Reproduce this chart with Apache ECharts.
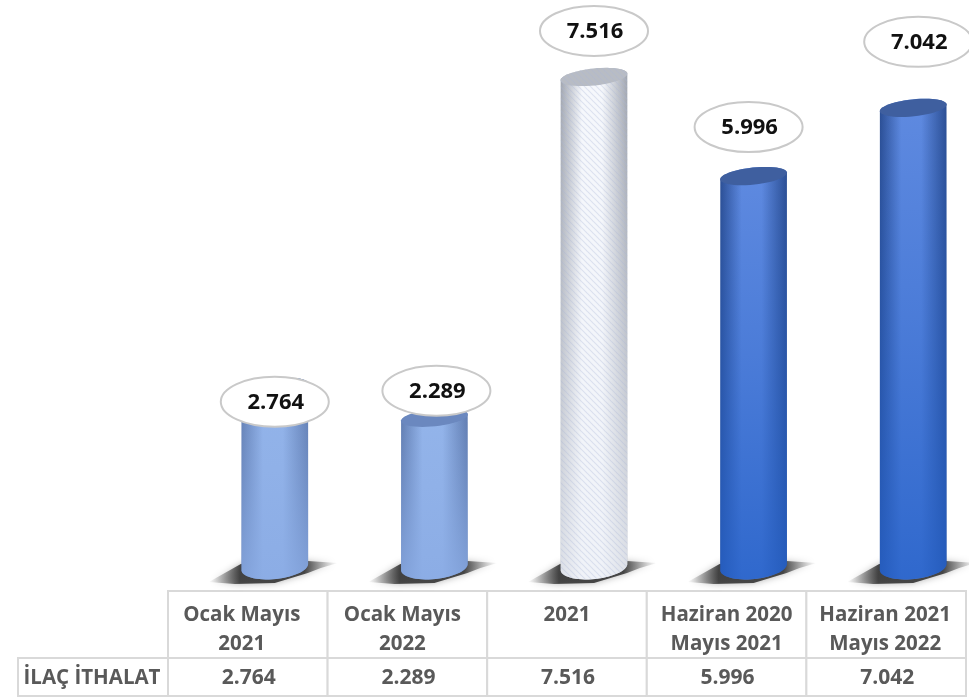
<!DOCTYPE html>
<html><head><meta charset="utf-8">
<style>html,body{margin:0;padding:0;background:#fff}#c{width:969px;height:700px}</style>
<script src="https://cdn.jsdelivr.net/npm/echarts@6/dist/echarts.min.js"></script>
</head><body><div id="c"></div>
<script>
const categories = ['Ocak Mayıs\n2021','Ocak Mayıs\n2022','2021','Haziran 2020\nMayıs 2021','Haziran 2021\nMayıs 2022'];
const values = [2764,2289,7516,5996,7042];
const valueLabels = ['2.764','2.289','7.516','5.996','7.042'];
const rowName = 'İLAÇ İTHALAT';

const palettes = [
 {edge:'#607cb0',mid:'#93b4ea',top:'#6b88bf',over:'#8aabe4'},
 {edge:'#607cb0',mid:'#93b4ea',top:'#6b88bf',over:'#8aabe4'},
 {edge:'#a0a5af',mid:'#f6f8fc',top:'#b8bcc4',over:'#eef1f7',hatch:true},
 {edge:'#2c4f94',mid:'#5f8ae0',top:'#3f5f9f',over:'#2460c8'},
 {edge:'#2c4f94',mid:'#5f8ae0',top:'#3f5f9f',over:'#2460c8'}
];
const labelNudge = [[0,15],[2,-27],[0,-46],[-5,-49],[5,-66]];
const headerNudge = [-6,-5,0,0,-1];
const FONT = '"Open Sans", "Noto Sans", sans-serif';

function ellipsePts(cx,cy,rx,ry,from,to,n){
  const a=6*Math.PI/180, out=[];
  for(let i=0;i<=n;i++){
    const t=from+(to-from)*i/n;
    out.push([cx+rx*Math.cos(t)*Math.cos(a)+ry*Math.sin(t)*Math.sin(a),
              cy-rx*Math.cos(t)*Math.sin(a)+ry*Math.sin(t)*Math.cos(a)]);
  }
  return out;
}
function hatchCanvas(){
  const c=document.createElement('canvas');c.width=6;c.height=6;
  const g=c.getContext('2d');g.strokeStyle='rgba(170,185,215,0.32)';g.lineWidth=1.2;
  g.beginPath();g.moveTo(0,0);g.lineTo(6,6);g.moveTo(-3,3);g.lineTo(3,9);g.moveTo(3,-3);g.lineTo(9,3);g.stroke();
  return c;
}
const hatch=hatchCanvas();
const G=echarts.graphic;

function renderCylinder(params,api){
  const i=api.value(0), v=api.value(1);
  const top=api.coord([i,v]), base=api.coord([i,0]);
  const p=palettes[i], rx=33.5, ry=8.5, cx=top[0], b=base[1];
  const children=[];
  const sh=[[cx-66,b+15],[cx-50,b+6],[cx-34,b-3],[cx,b-6],[cx+33,b-6],[cx+63,b-4],
            [cx+46,b+1],[cx+33,b+6],[cx,b+16],[cx-40,b+17]];
  children.push({type:'polygon',shape:{points:sh},style:{
    fill:new G.LinearGradient(0,0,1,0,[
      {offset:0,color:'rgba(90,90,90,0)'},{offset:0.24,color:'rgba(50,50,50,0.88)'},
      {offset:0.74,color:'rgba(50,50,50,0.88)'},{offset:1,color:'rgba(120,120,120,0)'}]),
    shadowBlur:7,shadowColor:'rgba(100,100,100,0.55)'}});
  const body=ellipsePts(cx,b,rx,ry+3.5,Math.PI,0,30).concat(ellipsePts(cx,top[1],rx,ry,0,-Math.PI,30));
  children.push({type:'polygon',shape:{points:body},style:{
    fill:new G.LinearGradient(0,0,1,0,[
      {offset:0,color:p.edge},{offset:0.32,color:p.mid},{offset:0.62,color:p.mid},{offset:1,color:p.edge}])}});
  children.push({type:'polygon',shape:{points:body},style:{
    fill:new G.LinearGradient(0,0,0,1,[
      {offset:0,color:p.over+'00'},{offset:0.45,color:p.over+'55'},{offset:1,color:p.over+'cc'}])}});
  if(p.hatch) children.push({type:'polygon',shape:{points:body},style:{fill:{image:hatch,repeat:'repeat'}}});
  const cap=ellipsePts(cx,top[1],rx,ry,0,2*Math.PI,48);
  children.push({type:'polygon',shape:{points:cap},style:{fill:p.top}});
  if(p.hatch) children.push({type:'polygon',shape:{points:cap},style:{fill:{image:hatch,repeat:'repeat'}}});
  const n=labelNudge[i], lx=cx+n[0], ly=top[1]+n[1];
  children.push({type:'ellipse',shape:{cx:lx,cy:ly,rx:54,ry:25},style:{fill:'#fff',stroke:'#c9c9c9',lineWidth:2}});
  children.push({type:'text',style:{text:valueLabels[i],x:lx+1,y:ly+1,align:'center',verticalAlign:'middle',
    font:'700 22px '+FONT,fill:'#111'}});
  return {type:'group',children};
}

function renderTable(params,api){
  const i=api.value(0);
  const cs=params.coordSys, w=api.size([1,0])[0], x=api.coord([i,0])[0]-w/2;
  const y0=cs.y, h1=67, h2=38;
  const line={fill:'#fff',stroke:'#d9d9d9',lineWidth:2};
  const children=[
    {type:'rect',shape:{x:x,y:y0,width:w,height:h1},style:line},
    {type:'rect',shape:{x:x,y:y0+h1,width:w,height:h2},style:line},
    {type:'text',style:{text:categories[i],x:x+w/2+headerNudge[i],y:y0+10,align:'center',verticalAlign:'top',
      font:'700 20.5px '+FONT,fill:'#595959',lineHeight:29}},
    {type:'text',style:{text:valueLabels[i],x:x+w/2+1,y:y0+h1+h2/2+1,align:'center',verticalAlign:'middle',
      font:'700 21px '+FONT,fill:'#595959'}}
  ];
  if(i===0){
    children.push({type:'rect',shape:{x:18,y:y0+h1,width:x-18,height:h2},style:line});
    children.push({type:'text',style:{text:rowName,x:(18+x)/2-1,y:y0+h1+h2/2+1,align:'center',verticalAlign:'middle',
      font:'700 20.5px '+FONT,fill:'#595959'}});
  }
  return {type:'group',children};
}

const chart=echarts.init(document.getElementById('c'),null,{renderer:'canvas'});
chart.setOption({
  animation:false,
  backgroundColor:'#fff',
  grid:[
    {left:195,width:798,top:45.4,height:521.6,outerBoundsMode:'none'},
    {left:168,width:798,top:591,height:105,outerBoundsMode:'none'}
  ],
  xAxis:[
    {type:'category',gridIndex:0,data:categories,show:false},
    {type:'category',gridIndex:1,data:categories,show:false}
  ],
  yAxis:[
    {type:'value',gridIndex:0,min:0,max:8000,show:false},
    {type:'value',gridIndex:1,min:0,max:1,show:false}
  ],
  series:[
    {type:'custom',xAxisIndex:1,yAxisIndex:1,renderItem:renderTable,clip:false,silent:true,
     encode:{x:0,y:1},data:categories.map((c,i)=>[i,0])},
    {type:'custom',xAxisIndex:0,yAxisIndex:0,renderItem:renderCylinder,clip:false,silent:true,
     encode:{x:0,y:1},data:values.map((v,i)=>[i,v])}
  ]
});
</script></body></html>
